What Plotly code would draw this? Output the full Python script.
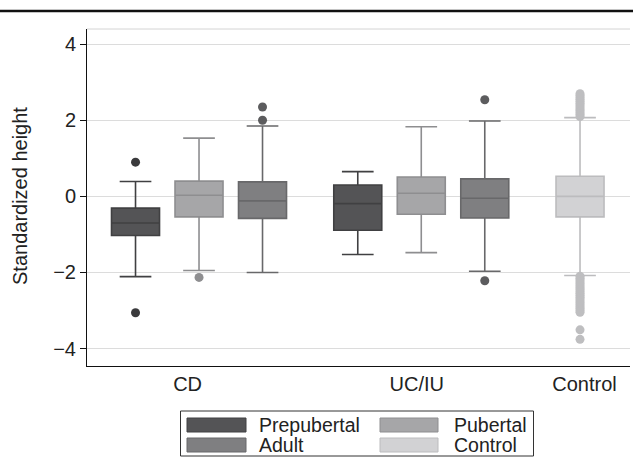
import plotly.graph_objects as go

# ---- data ----
box_names = ["CD Prepubertal", "CD Pubertal", "CD Adult",
             "UC/IU Prepubertal", "UC/IU Pubertal", "UC/IU Adult", "Control"]
box_series = ["Prepubertal", "Pubertal", "Adult",
              "Prepubertal", "Pubertal", "Adult", "Control"]
box_pos = [0, 1, 2, 3.5, 4.5, 5.5, 7]

lower_whisker = [-2.11, -1.95, -2.00, -1.53, -1.48, -1.97, -2.08]
q1_vals = [-1.03, -0.54, -0.58, -0.89, -0.47, -0.57, -0.54]
median_vals = [-0.70, 0.03, -0.12, -0.19, 0.08, -0.05, 0.00]
q3_vals = [-0.31, 0.40, 0.38, 0.30, 0.51, 0.46, 0.53]
upper_whisker = [0.39, 1.53, 1.85, 0.65, 1.83, 1.98, 2.07]

outliers = [
    [0.90, -3.06],
    [-2.13],
    [2.35, 2.00],
    [],
    [],
    [2.54, -2.22],
    [2.10, 2.15, 2.20, 2.25, 2.30, 2.35, 2.40, 2.45, 2.50, 2.55, 2.60, 2.65, 2.70,
     -2.10, -2.15, -2.20, -2.25, -2.30, -2.35, -2.40, -2.45, -2.50, -2.55, -2.60,
     -2.65, -2.70, -2.75, -2.80, -2.85, -2.90, -2.95, -3.00, -3.05, -3.51, -3.76],
]

group_labels = ["CD", "UC/IU", "Control"]
group_label_pos = [0.82, 4.43, 7.07]
y_ticks = [-4, -2, 0, 2, 4]

# ---- styles ----
fill = {"Prepubertal": "#545456", "Pubertal": "#a6a6a8",
        "Adult": "#7f7f81", "Control": "#d2d2d4"}
edge = {"Prepubertal": "#404042", "Pubertal": "#8e8e90",
        "Adult": "#68686a", "Control": "#bcbcbe"}
dot = {"Prepubertal": "#3a3a3c", "Pubertal": "#8e8e90",
       "Adult": "#5c5c5e", "Control": "#bebec0"}

FONT = "Liberation Sans, Arial, Helvetica, sans-serif"

fig = go.Figure()
for i, name in enumerate(box_names):
    s = box_series[i]
    fig.add_trace(go.Box(
        name=name, x=[box_pos[i]],
        q1=[q1_vals[i]], median=[median_vals[i]], q3=[q3_vals[i]],
        lowerfence=[lower_whisker[i]], upperfence=[upper_whisker[i]],
        width=0.756, whiskerwidth=0.66,
        fillcolor=fill[s], line=dict(color=edge[s], width=1.6),
        boxpoints=False, showlegend=False, hoverinfo="skip",
    ))
    if outliers[i]:
        fig.add_trace(go.Scatter(
            x=[box_pos[i]] * len(outliers[i]), y=outliers[i], mode="markers",
            marker=dict(color=dot[s], size=9, line=dict(width=0)),
            showlegend=False, hoverinfo="skip",
        ))

# ---- layout (pixel geometry) ----
W, H = 633, 460
L, R, T, B = 87, 3, 29, 94
PW, PH = W - L - R, H - T - B


def px(x):
    return (x - L) / PW


def py(y):
    return (H - B - y) / PH


shapes = [
    # thick rule at top of the page
    dict(type="line", xref="paper", yref="paper", x0=px(0), x1=px(W),
         y0=py(11), y1=py(11), line=dict(color="#111111", width=2.5)),
    # light top border of plot region
    dict(type="line", xref="paper", yref="paper", x0=0, x1=1, y0=1, y1=1,
         line=dict(color="#d4d4d4", width=1)),
    # legend frame
    dict(type="rect", xref="paper", yref="paper", x0=px(180.5), x1=px(533.5),
         y0=py(456), y1=py(411), line=dict(color="#333333", width=1),
         fillcolor="white"),
]
annotations = [
    dict(text="Standardized height", xref="paper", yref="paper",
         x=px(20), y=py(196), textangle=-90, showarrow=False,
         xanchor="center", yanchor="middle",
         font=dict(family=FONT, size=20, color="#222222")),
]

legend_cells = [  # (series, swatch x0, swatch x1, text x, row y center)
    ("Prepubertal", 187, 246, 257, 425),
    ("Pubertal", 380, 438, 452, 425),
    ("Adult", 187, 246, 257, 445),
    ("Control", 380, 438, 452, 445),
]
for s, sx0, sx1, tx, yc in legend_cells:
    shapes.append(dict(type="rect", xref="paper", yref="paper",
                       x0=px(sx0), x1=px(sx1), y0=py(yc + 7), y1=py(yc - 7),
                       fillcolor=fill[s], line=dict(color=edge[s], width=1)))
    annotations.append(dict(text=s, xref="paper", yref="paper", x=px(tx),
                            y=py(yc), xanchor="left", yanchor="middle",
                            showarrow=False,
                            font=dict(family=FONT, size=19.5, color="#222222")))

fig.update_layout(
    width=W, height=H,
    margin=dict(l=L, r=R, t=T, b=B, pad=0),
    paper_bgcolor="white", plot_bgcolor="white",
    font=dict(family=FONT, size=20, color="#222222"),
    shapes=shapes, annotations=annotations,
    showlegend=False,
    xaxis=dict(range=[-0.764, 7.787], tickmode="array",
               tickvals=group_label_pos, ticktext=group_labels,
               ticks="", showgrid=False, zeroline=False,
               showline=True, linecolor="#111111", linewidth=1,
               tickfont=dict(family=FONT, size=20, color="#222222")),
    yaxis=dict(range=[-4.46, 4.40], tickmode="array", tickvals=y_ticks,
               ticks="outside", ticklen=6, tickcolor="#111111",
               showgrid=True, gridcolor="#dcdcdc", gridwidth=1,
               zeroline=False, showline=True, linecolor="#111111",
               linewidth=1,
               tickfont=dict(family=FONT, size=20, color="#222222")),
)

fig.write_html(
    "out.html",
    config={"displayModeBar": False, "staticPlot": True},
    post_script="document.body.style.margin='0px';"
                "document.body.style.overflow='hidden';",
)
